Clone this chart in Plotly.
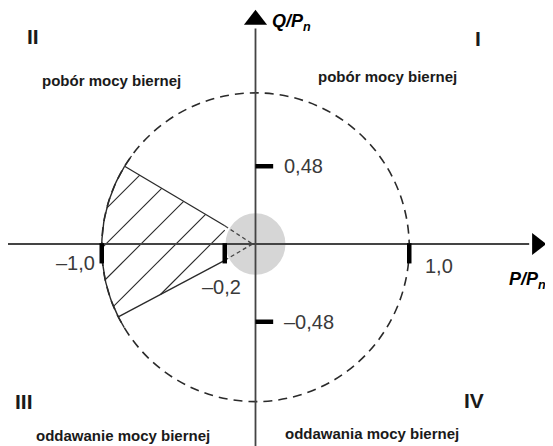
import numpy as np
import plotly.graph_objects as go

# page body has an 8px margin, so the figure is drawn 8px smaller and laid out in reference pixels
OFF = 8
W, H = 553 - OFF, 446 - OFF

# ---- chart values ----
p_tick_values = [-1.0, -0.2, 1.0]
p_tick_labels = ["\u20131,0", "\u20130,2", "1,0"]
q_tick_values = [0.48, -0.48]
q_tick_labels = ["0,48", "\u20130,48"]
region_q_top = 0.48        # upper edge of the hatched area on the circle
region_q_bottom = -0.45    # lower edge of the hatched area on the circle
region_p_inner = -0.2      # inner limit of the hatched area
quadrant_numbers = ["I", "II", "III", "IV"]
quadrant_texts = ["pobór mocy biernej", "pobór mocy biernej",
                  "oddawanie mocy biernej", "oddawania mocy biernej"]

# ---- geometry / styling ----
X0_PX, Y0_PX, SX, SY = 255.5, 244.0, 153.75, 162.0   # origin position & scale in reference px
X_RANGE = [(OFF - X0_PX) / SX, (553 - X0_PX) / SX]
Y_RANGE = [(Y0_PX - 446) / SY, (Y0_PX - OFF) / SY]
circle_cy, circle_rx, circle_ry = -0.02, 1.0, 0.953
ink = "#2a2a2a"


def paper(xp, yp):
    return (xp - OFF) / W, 1 - (yp - OFF) / H


fig = go.Figure()

# grey disc at origin
fig.add_shape(type="circle", xref="x", yref="y", x0=-0.195, x1=0.195, y0=-0.19, y1=0.19,
              fillcolor="#d6d6d6", line=dict(width=0), layer="below")

# dashed circle
fig.add_shape(type="circle", xref="x", yref="y", x0=-circle_rx, x1=circle_rx,
              y0=circle_cy - circle_ry, y1=circle_cy + circle_ry,
              line=dict(color=ink, width=1.6, dash="9px,6px"))

# axes lines
fig.add_shape(type="line", xref="x", yref="y", x0=X_RANGE[0], x1=1.78, y0=0, y1=0,
              line=dict(color="#444", width=1.8))
fig.add_shape(type="line", xref="x", yref="y", x0=0, x1=0, y0=Y_RANGE[0], y1=1.33,
              line=dict(color="#444", width=1.8))
fig.add_trace(go.Scatter(x=[1.83], y=[0], mode="markers",
                         marker=dict(symbol="triangle-right", size=19, color="black"),
                         hoverinfo="skip", showlegend=False))
fig.add_trace(go.Scatter(x=[0], y=[1.385], mode="markers",
                         marker=dict(symbol="triangle-up", size=20, color="black"),
                         hoverinfo="skip", showlegend=False))


# hatched region
def on_circle(q):
    return -circle_rx * np.sqrt(1 - ((q - circle_cy) / circle_ry) ** 2)


pt_top = (on_circle(region_q_top), region_q_top)
pt_bot = (on_circle(region_q_bottom), region_q_bottom)
q_in_top = pt_top[1] * region_p_inner / pt_top[0]
q_in_bot = pt_bot[1] * region_p_inner / pt_bot[0]

a0 = np.arctan2((pt_top[1] - circle_cy) / circle_ry, pt_top[0] / circle_rx)
a1 = np.arctan2((pt_bot[1] - circle_cy) / circle_ry, pt_bot[0] / circle_rx) + 2 * np.pi
angs = np.linspace(a0, a1, 40)
arc_p = circle_rx * np.cos(angs)
arc_q = circle_cy + circle_ry * np.sin(angs)
poly_p = list(arc_p) + [region_p_inner, region_p_inner, pt_top[0]]
poly_q = list(arc_q) + [q_in_bot, q_in_top, pt_top[1]]

# hatch lines: q = s*p + b, clipped to the polygon
s = SX / SY
hatch_b = [1.139, 0.923, 0.707, 0.491, 0.275]
hp, hq = [], []
PP = np.array(poly_p)
QQ = np.array(poly_q)
for b in hatch_b:
    f = QQ - s * PP - b
    pts = []
    for i in range(len(PP) - 1):
        if f[i] == 0:
            pts.append((PP[i], QQ[i]))
        elif f[i] * f[i + 1] < 0:
            t = f[i] / (f[i] - f[i + 1])
            pts.append((PP[i] + t * (PP[i + 1] - PP[i]), QQ[i] + t * (QQ[i + 1] - QQ[i])))
    if len(pts) >= 2:
        pts.sort()
        hp += [pts[0][0], pts[-1][0], None]
        hq += [pts[0][1], pts[-1][1], None]
fig.add_trace(go.Scatter(x=hp, y=hq, mode="lines", line=dict(color=ink, width=1.1),
                         hoverinfo="skip", showlegend=False))

# region outline: arc, upper edge, lower edge
fig.add_trace(go.Scatter(x=list(arc_p), y=list(arc_q), mode="lines",
                         line=dict(color=ink, width=1.4), hoverinfo="skip", showlegend=False))
fig.add_trace(go.Scatter(x=[pt_top[0], region_p_inner, None, pt_bot[0], region_p_inner],
                         y=[pt_top[1], q_in_top, None, pt_bot[1], q_in_bot], mode="lines",
                         line=dict(color=ink, width=1.3), hoverinfo="skip", showlegend=False))
ext_a = np.linspace(a0 - 0.08, a0, 6)
ext_b = np.linspace(a1, a1 + 0.08, 6)
for ea in (ext_a, ext_b):
    fig.add_trace(go.Scatter(x=circle_rx * np.cos(ea), y=circle_cy + circle_ry * np.sin(ea),
                             mode="lines", line=dict(color=ink, width=1.3),
                             hoverinfo="skip", showlegend=False))

# dashed lines to origin
fig.add_trace(go.Scatter(x=[region_p_inner, -0.02, None, region_p_inner, -0.02],
                         y=[q_in_top, 0.0, None, q_in_bot, 0.0], mode="lines",
                         line=dict(color="#444", width=1.3, dash="4px,3px"),
                         hoverinfo="skip", showlegend=False))

# thick tick marks
tick_len_q = 0.12
for v in p_tick_values:
    fig.add_shape(type="line", xref="x", yref="y", x0=v, x1=v, y0=0.005, y1=-tick_len_q,
                  line=dict(color="black", width=4.5))
for v in q_tick_values:
    fig.add_shape(type="line", xref="x", yref="y", x0=0, x1=0.115, y0=v, y1=v,
                  line=dict(color="black", width=4.5))

tick_font = dict(family="Liberation Sans, Arial", size=20, color="#3a3a3a")
ann = []
p_label_pos = [(97, 263, "right"), (200, 287, "left"), (423, 266, "left")]
for lab, (xp, yp, al) in zip(p_tick_labels, p_label_pos):
    x, y = paper(xp, yp)
    ann.append(dict(x=x, y=y, xref="paper", yref="paper", text=lab, showarrow=False,
                    xanchor=al, yanchor="middle", font=tick_font))
for lab, v in zip(q_tick_labels, q_tick_values):
    x, _ = paper(282, 0)
    ann.append(dict(x=x, y=v, xref="paper", yref="y", text=lab, showarrow=False,
                    xanchor="left", yanchor="middle", font=tick_font))

# axis titles
title_font = dict(family="Liberation Sans, Arial", size=18, color="black")
x, y = paper(270, 22)
ann.append(dict(x=x, y=y, xref="paper", yref="paper", text="<b><i>Q/P<sub>n</sub></i></b>",
                showarrow=False, xanchor="left", yanchor="middle", font=title_font))
x, y = paper(507, 280)
ann.append(dict(x=x, y=y, xref="paper", yref="paper", text="<b><i>P/P<sub>n</sub></i></b>",
                showarrow=False, xanchor="left", yanchor="middle", font=title_font))

# quadrant labels
num_font = dict(family="Liberation Sans, Arial", size=21, color="#1a1a1a")
txt_font = dict(family="Liberation Sans, Arial", size=15, color="#1a1a1a")
num_pos = [(478, 38), (33, 36), (24, 401), (474, 400)]
txt_pos = [(387, 76), (111, 80), (123, 435), (372, 433)]
for n, (xp, yp) in zip(quadrant_numbers, num_pos):
    x, y = paper(xp, yp)
    ann.append(dict(x=x, y=y, xref="paper", yref="paper", text=f"<b>{n}</b>", showarrow=False,
                    xanchor="center", yanchor="middle", font=num_font))
for t, (xp, yp) in zip(quadrant_texts, txt_pos):
    x, y = paper(xp, yp)
    ann.append(dict(x=x, y=y, xref="paper", yref="paper", text=f"<b>{t}</b>", showarrow=False,
                    xanchor="center", yanchor="middle", font=txt_font))

fig.update_layout(
    width=W, height=H, autosize=False,
    margin=dict(l=0, r=0, t=0, b=0),
    paper_bgcolor="white", plot_bgcolor="white",
    xaxis=dict(range=X_RANGE, visible=False, fixedrange=True),
    yaxis=dict(range=Y_RANGE, visible=False, fixedrange=True),
    annotations=ann, showlegend=False,
)

fig.write_html("out.html")
